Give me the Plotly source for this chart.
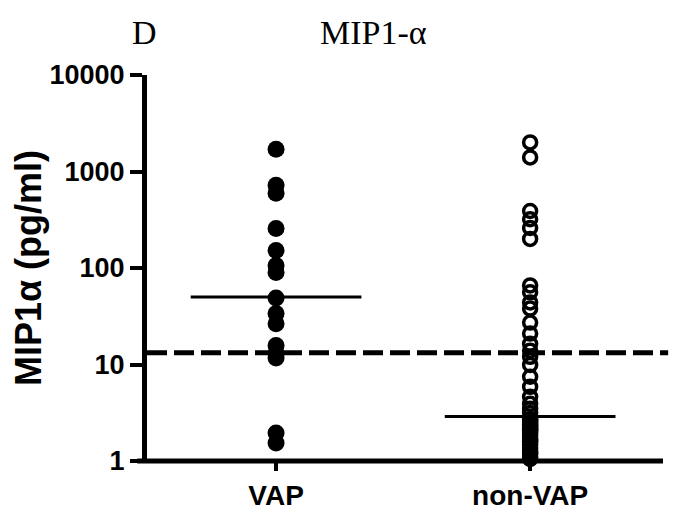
import plotly.graph_objects as go

categories = ["VAP", "non-VAP"]
vap_values = [1700, 720, 594, 257, 152, 106, 90, 49, 33.7, 26.5, 15.7, 13.0, 11.7, 1.95, 1.54]
nonvap_values = [2000, 1400, 390, 320, 260, 200, 66, 56, 44, 38, 27.2, 20.9, 16.4, 13.9, 12.0,
                 9.9, 7.46, 5.87, 4.62, 3.91, 3.47, 3.15,
                 2.73, 2.66, 2.60, 2.48, 2.37, 2.31, 2.25, 2.15, 2.10, 2.05, 1.95, 1.82,
                 1.69, 1.62, 1.58, 1.47, 1.36, 1.27, 1.21, 1.18, 1.10, 1.05]
medians = [50, 2.9]
cutoff = 13.2
tick_vals = [1, 10, 100, 1000, 10000]
tick_text = ["1", "10", "100", "1000", "10000"]

T, B, L, R = 67, 76, 127, 22
W, H = 677, 529
PH = H - T - B
PW = W - L - R

fig = go.Figure()
fig.add_trace(go.Scatter(
    x=[0] * len(vap_values), y=vap_values, mode="markers",
    marker=dict(symbol="circle", size=17, color="black", line=dict(width=0)),
    cliponaxis=False, showlegend=False))
fig.add_trace(go.Scatter(
    x=[1] * len(nonvap_values), y=nonvap_values, mode="markers",
    marker=dict(symbol="circle-open", size=13, color="black", line=dict(width=3.5, color="black")),
    cliponaxis=False, showlegend=False))

for i, m in enumerate(medians):
    fig.add_trace(go.Scatter(
        x=[i - 0.336, i + 0.336], y=[m, m], mode="lines",
        line=dict(color="black", width=3), showlegend=False, hoverinfo="skip"))

fig.add_shape(type="line", xref="paper", yref="y", x0=0, x1=1.01, y0=cutoff, y1=cutoff,
              line=dict(color="black", width=5, dash="20px,7px"))
fig.add_shape(type="line", xref="paper", yref="paper", x0=-10 / PW, x1=1, y0=0, y1=0,
              line=dict(color="black", width=5))

fig.update_layout(
    width=W, height=H,
    margin=dict(l=L, r=R, t=T, b=B),
    paper_bgcolor="white", plot_bgcolor="white",
    font=dict(family="Liberation Sans", color="black"),
    xaxis=dict(range=[-0.508, 1.523], tickvals=[0, 1], ticktext=categories,
               showgrid=False, zeroline=False, showline=False,
               ticks="outside", ticklen=9, tickwidth=4, tickcolor="black",
               tickfont=dict(family="Liberation Sans", size=28, color="black", weight="bold")),
    yaxis=dict(type="log", range=[0, 4], tickvals=tick_vals, ticktext=tick_text,
               showgrid=False, zeroline=False, showline=True, linewidth=5, linecolor="black",
               ticks="outside", ticklen=12, tickwidth=4, tickcolor="black",
               tickfont=dict(family="Liberation Sans", size=27, color="black", weight="bold"),
               title=dict(text="MIP1α (pg/ml)", standoff=4,
                          font=dict(family="Liberation Sans", size=36, color="black", weight="bold"))),
    annotations=[
        dict(text="D", xref="paper", yref="paper", x=(124 - L) / PW, y=1 + (T - 24) / PH,
             showarrow=False, xanchor="center", yanchor="middle",
             font=dict(family="Liberation Serif", size=34, color="black")),
        dict(text="MIP1-α", xref="paper", yref="paper", x=(359 - L) / PW, y=1 + (T - 24) / PH,
             showarrow=False, xanchor="center", yanchor="middle",
             font=dict(family="Liberation Serif", size=34, color="black")),
    ],
)

fig.write_html("out.html")
